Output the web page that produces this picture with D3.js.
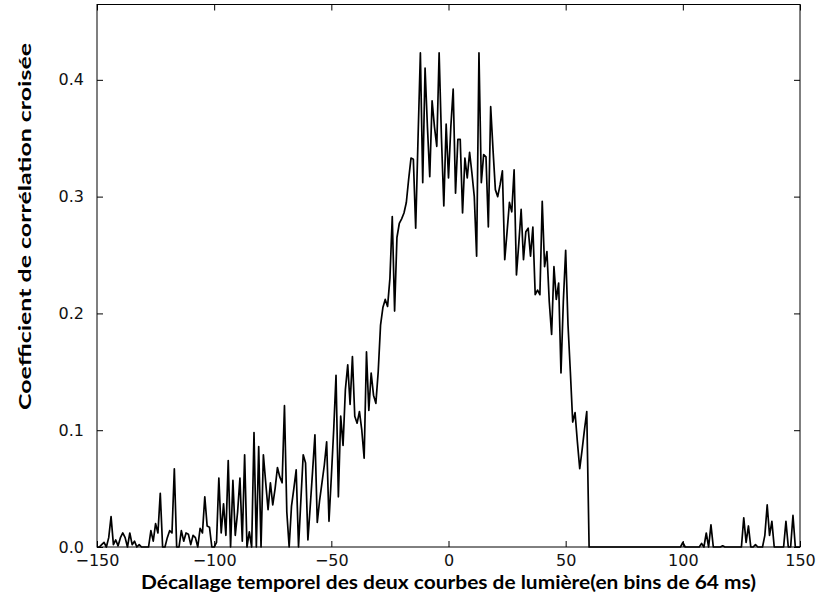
<!DOCTYPE html>
<html>
<head>
<meta charset="utf-8">
<script src="https://cdn.jsdelivr.net/npm/d3@7"></script>
<style>
  html, body { margin: 0; padding: 0; background: #fff; }
  svg { display: block; }
</style>
</head>
<body>
<svg id="chart" width="819" height="605"></svg>
<script>
// Cross-correlation coefficient of two light curves versus time lag (bins of 64 ms)
const lagStart = -150;   // first lag of the series, one value per integer lag
const correlation = [
  // -150 .. -141
  0, 0, 0.002, 0.004, 0, 0.008, 0.026, 0.002, 0.006, 0.001,
  // -140 .. -131
  0.008, 0.012, 0.008, 0, 0.012, 0.002, 0.005, 0, 0.002, 0,
  // -130 .. -121
  0, 0, 0, 0.014, 0.005, 0.02, 0.012, 0.046, 0, 0,
  // -120 .. -111
  0.008, 0.014, 0.012, 0.067, 0, 0, 0.014, 0.005, 0.012, 0.011,
  // -110 .. -101
  0.002, 0.01, 0.008, 0, 0.016, 0.012, 0.043, 0.018, 0.017, 0,
  // -100 .. -91
  0, 0.004, 0.059, 0.012, 0.037, 0.01, 0.074, 0, 0.057, 0.01,
  // -90 .. -81
  0.03, 0.059, 0.005, 0.079, 0, 0.013, 0, 0.098, 0, 0.086,
  // -80 .. -71
  0, 0.079, 0.055, 0.032, 0.055, 0.036, 0.05, 0.068, 0.06, 0.055,
  // -70 .. -61
  0.121, 0.03, 0, 0.035, 0.05, 0.066, 0, 0.04, 0.079, 0.072,
  // -60 .. -51
  0.006, 0.035, 0.065, 0.096, 0.021, 0.04, 0.055, 0.07, 0.09, 0.022,
  // -50 .. -41
  0.06, 0.1, 0.147, 0.043, 0.112, 0.087, 0.135, 0.156, 0.122, 0.163,
  // -40 .. -31
  0.112, 0.106, 0.116, 0.1, 0.076, 0.167, 0.117, 0.149, 0.13, 0.123,
  // -30 .. -21
  0.15, 0.19, 0.205, 0.212, 0.206, 0.23, 0.283, 0.202, 0.265, 0.277,
  // -20 .. -11
  0.281, 0.286, 0.295, 0.315, 0.333, 0.332, 0.273, 0.35, 0.423, 0.312,
  // -10 .. -1
  0.41, 0.36, 0.317, 0.382, 0.36, 0.343, 0.423, 0.35, 0.292, 0.362,
  // 0 .. 9
  0.316, 0.36, 0.392, 0.303, 0.349, 0.349, 0.286, 0.333, 0.316, 0.338,
  // 10 .. 19
  0.32, 0.3, 0.249, 0.423, 0.312, 0.336, 0.334, 0.274, 0.377, 0.34,
  // 20 .. 29
  0.306, 0.3, 0.31, 0.322, 0.246, 0.27, 0.295, 0.287, 0.323, 0.233,
  // 30 .. 39
  0.26, 0.289, 0.246, 0.27, 0.273, 0.249, 0.274, 0.216, 0.22, 0.216,
  // 40 .. 49
  0.296, 0.24, 0.253, 0.21, 0.182, 0.24, 0.212, 0.226, 0.149, 0.21,
  // 50 .. 59
  0.254, 0.19, 0.15, 0.107, 0.115, 0.09, 0.067, 0.083, 0.1, 0.116,
  // 60 .. 69
  0, 0, 0, 0, 0, 0, 0, 0, 0, 0,
  // 70 .. 79
  0, 0, 0, 0, 0, 0, 0, 0, 0, 0,
  // 80 .. 89
  0, 0, 0, 0, 0, 0, 0, 0, 0, 0,
  // 90 .. 99
  0, 0, 0, 0, 0, 0, 0, 0, 0, 0,
  // 100 .. 109
  0.004, 0, 0, 0, 0, 0, 0, 0, 0.003, 0,
  // 110 .. 119
  0.012, 0, 0.019, 0, 0, 0, 0, 0.001, 0, 0,
  // 120 .. 129
  0, 0, 0, 0, 0, 0, 0.025, 0.004, 0.018, 0,
  // 130 .. 139
  0, 0.002, 0, 0, 0, 0.01, 0.036, 0.01, 0.022, 0,
  // 140 .. 149
  0, 0, 0, 0, 0.022, 0, 0, 0.027, 0, 0,
  // 150
  0
];

const xTicks = [-150, -100, -50, 0, 50, 100, 150];
const yTicks = [0.0, 0.1, 0.2, 0.3, 0.4];
const xDomain = [-150, 150];
const yDomain = [0, 0.4645];
const xTitle = "Décallage temporel des deux courbes de lumière(en bins de 64 ms)";
const yTitle = "Coefficient de corrélation croisée";

const svg = d3.select("#chart");
const plot = { left: 97, right: 800, top: 4.5, bottom: 547 };

const x = d3.scaleLinear().domain(xDomain).range([plot.left, plot.right]);
const y = d3.scaleLinear().domain(yDomain).range([plot.bottom, plot.top]);

const points = correlation.map((v, i) => ({ lag: lagStart + i, value: v }));

const tickFont = "'DejaVu Sans', 'Bitstream Vera Sans', sans-serif";
const titleFont = "Lato, 'Open Sans', sans-serif";

// data line (drawn first so the frame sits on top of the zero segments)
svg.append("path")
  .datum(points)
  .attr("fill", "none")
  .attr("stroke", "#000")
  .attr("stroke-width", 1.7)
  .attr("stroke-linejoin", "round")
  .attr("d", d3.line().x(d => x(d.lag)).y(d => y(d.value)));

// axes with inward ticks on all four sides
function styleAxis(g, showLabels) {
  g.select(".domain").remove();
  g.selectAll(".tick line").attr("stroke", "#000").attr("stroke-width", 1);
  g.selectAll(".tick text")
    .attr("fill", "#111")
    .style("font-family", tickFont)
    .style("font-size", "16px");
  if (!showLabels) g.selectAll(".tick text").remove();
}

svg.append("g")
  .attr("transform", `translate(0,${plot.bottom})`)
  .call(d3.axisBottom(x).tickValues(xTicks).tickSize(-6).tickPadding(8))
  .call(g => styleAxis(g, true));

svg.append("g")
  .attr("transform", `translate(0,${plot.top})`)
  .call(d3.axisTop(x).tickValues(xTicks).tickSize(-6))
  .call(g => styleAxis(g, false));

svg.append("g")
  .attr("transform", `translate(${plot.left},0)`)
  .call(d3.axisLeft(y).tickValues(yTicks).tickFormat(d3.format(".1f")).tickSize(-6).tickPadding(13))
  .call(g => styleAxis(g, true));

svg.append("g")
  .attr("transform", `translate(${plot.right},0)`)
  .call(d3.axisRight(y).tickValues(yTicks).tickSize(-6))
  .call(g => styleAxis(g, false));

// frame
svg.append("rect")
  .attr("x", plot.left)
  .attr("y", plot.top)
  .attr("width", plot.right - plot.left)
  .attr("height", plot.bottom - plot.top)
  .attr("fill", "none")
  .attr("stroke", "#000")
  .attr("stroke-width", 1);

// axis titles
svg.append("text")
  .attr("x", (plot.left + plot.right) / 2)
  .attr("y", 589)
  .attr("text-anchor", "middle")
  .attr("textLength", 615)
  .attr("lengthAdjust", "spacingAndGlyphs")
  .style("font-family", titleFont)
  .style("font-weight", "bold")
  .style("font-size", "18px")
  .text(xTitle);

svg.append("text")
  .attr("transform", "translate(31,226.5) rotate(-90)")
  .attr("text-anchor", "middle")
  .attr("textLength", 367)
  .attr("lengthAdjust", "spacingAndGlyphs")
  .style("font-family", titleFont)
  .style("font-weight", "bold")
  .style("font-size", "17px")
  .text(yTitle);
</script>
</body>
</html>
